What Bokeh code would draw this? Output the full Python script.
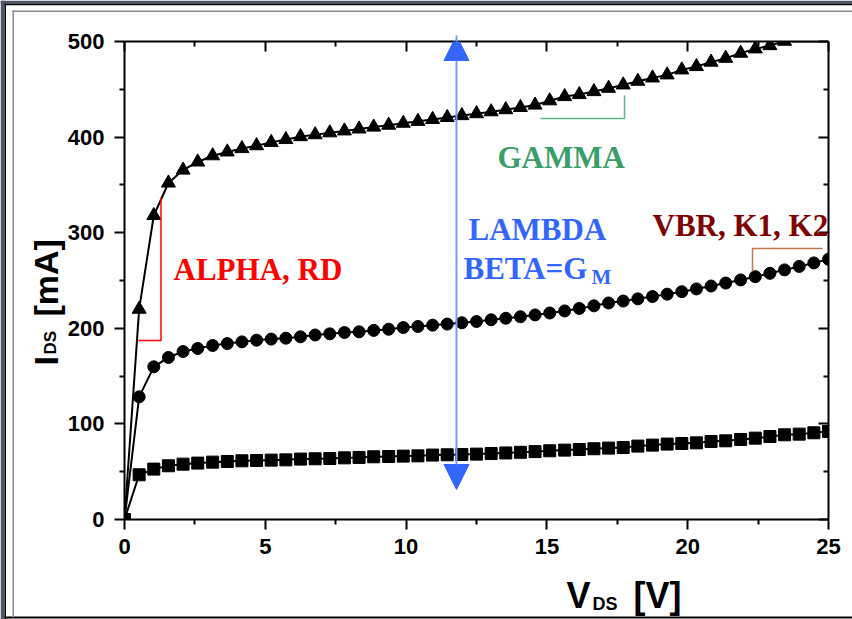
import numpy as np
from bokeh.plotting import figure
from bokeh.models import (LinearAxis, Range1d, Label, Arrow, NormalHead, FixedTicker)
from bokeh.core.properties import value
from bokeh.embed import file_html
from bokeh.resources import INLINE

# ---------------- data ----------------
v_ds = [0.00, 0.52, 1.04, 1.56, 2.08, 2.60, 3.13, 3.65, 4.17, 4.69,
        5.21, 5.73, 6.25, 6.77, 7.29, 7.81, 8.33, 8.85, 9.38, 9.90,
        10.42, 10.94, 11.46, 11.98, 12.50, 13.02, 13.54, 14.06, 14.58, 15.10,
        15.63, 16.15, 16.67, 17.19, 17.71, 18.23, 18.75, 19.27, 19.79, 20.31,
        20.83, 21.35, 21.88, 22.40, 22.92, 23.44, 23.96, 24.48, 25.00]

i_low = [0, 46.8, 52.7, 56.2, 57.9, 59.0, 60.0, 60.7, 61.4, 61.7,
         62.1, 62.4, 63.2, 63.5, 63.8, 64.5, 64.9, 65.6, 65.9, 66.3,
         66.6, 67.4, 67.7, 68.0, 68.4, 69.0, 69.6, 70.3, 71.0, 71.9,
         72.6, 73.2, 74.0, 74.7, 75.3, 76.8, 77.8, 78.9, 79.5, 80.2,
         81.6, 82.3, 83.7, 85.1, 86.8, 88.6, 89.3, 90.7, 92.1]

i_mid = [0, 128.3, 159.7, 169.5, 175.7, 178.9, 182.0, 184.0, 185.8, 187.6,
         188.7, 189.7, 191.1, 193.0, 194.2, 195.6, 196.3, 197.8, 199.0, 200.8,
         201.9, 203.3, 204.4, 205.8, 207.1, 208.9, 210.5, 212.1, 214.0, 216.0,
         218.2, 220.8, 223.5, 226.5, 228.5, 230.8, 233.2, 235.7, 238.3, 241.2,
         244.2, 247.3, 250.6, 254.0, 257.5, 261.1, 264.7, 268.4, 272.2]

i_high = [0, 220.0, 318.0, 352.0, 365.5, 374.0, 380.5, 384.5, 388.0, 391.0,
          394.5, 397.5, 400.5, 402.5, 404.5, 406.5, 408.5, 410.5, 412.5, 414.5,
          416.5, 418.5, 420.5, 422.5, 424.5, 426.5, 428.7, 431.0, 433.5, 438.0,
          442.4, 444.5, 447.6, 451.1, 454.6, 458.4, 461.9, 465.1, 470.3, 473.8,
          478.4, 482.5, 487.8, 492.3, 495.7, 500.3, 503.8, 503.8, 503.8]

x_ticks = [0, 5, 10, 15, 20, 25]
x_minor = [2.5, 7.5, 12.5, 17.5, 22.5]
y_ticks = [0, 100, 200, 300, 400, 500]
y_minor = [50, 150, 250, 350, 450]

# ---------------- layout ----------------
W, H = 852, 619
FL, FR, FT, FB = 124, 828, 41, 519

def dx(px):
    return (px - FL) * 25.0 / (FR - FL)

def dy(py):
    return (FB - py) * 500.0 / (FB - FT)

p = figure(width=W, height=H, x_range=Range1d(0, 25), y_range=Range1d(0, 500),
           output_backend="svg", toolbar_location=None,
           x_axis_location=None, y_axis_location=None,
           min_border_left=FL, min_border_right=W - FR,
           min_border_top=FT, min_border_bottom=H - FB)
p.grid.grid_line_color = None
p.outline_line_color = None
p.background_fill_color = "white"
p.border_fill_color = "white"

SANS = "Liberation Sans"
SERIF = "Liberation Serif"

def make_axis(ticks, minor, outward, show_labels):
    ax = LinearAxis(ticker=FixedTicker(ticks=ticks, minor_ticks=minor))
    ax.axis_line_width = 2
    ax.major_tick_line_width = 2
    ax.minor_tick_line_width = 2
    if outward:
        ax.major_tick_out, ax.major_tick_in = 10, 0
        ax.minor_tick_out, ax.minor_tick_in = 5, 0
    else:
        ax.major_tick_out, ax.major_tick_in = 0, 10
        ax.minor_tick_out, ax.minor_tick_in = 0, 5
    if show_labels:
        ax.major_label_text_font = SANS
        ax.major_label_text_font_style = "bold"
        ax.major_label_text_font_size = "22px"
        ax.major_label_text_color = "black"
    else:
        ax.major_label_text_font_size = "1px"
        ax.major_label_text_color = None
        ax.major_label_standoff = 0
    return ax

ax_b = make_axis(x_ticks, x_minor, True, True)
ax_b.major_label_standoff = 9
ax_l = make_axis(y_ticks, y_minor, True, True)
ax_l.major_label_standoff = 10
ax_t = make_axis(x_ticks, x_minor, False, False)
ax_r = make_axis(y_ticks, y_minor, False, False)
p.add_layout(ax_b, "below")
p.add_layout(ax_l, "left")
p.add_layout(ax_t, "above")
p.add_layout(ax_r, "right")

# ---------------- series ----------------
for ys in (i_low, i_mid, i_high):
    p.line(v_ds, ys, line_color="black", line_width=2)
p.scatter(v_ds, i_low, marker="square", size=12, color="black")
p.scatter(v_ds, i_mid, marker="circle", size=12, color="black")
p.scatter(v_ds, i_high, marker="triangle", size=14, color="black")

# ---------------- brackets ----------------
p.line([dx(137), dx(160.5), dx(160.5)], [dy(340), dy(340), dy(197)],
       line_color="#ff0000", line_width=1.5)
p.line([dx(540), dx(624), dx(624)], [dy(118), dy(118), dy(95)],
       line_color="#5fb98a", line_width=1.5)
p.line([dx(752), dx(752), dx(822)], [dy(271), dy(248), dy(248)],
       line_color="#c07850", line_width=1.5)

# ---------------- blue arrow ----------------
BLUE = "#3366ff"
p.add_layout(Arrow(start=NormalHead(size=25, fill_color=BLUE, line_color=BLUE, line_width=1),
                   end=NormalHead(size=25, fill_color=BLUE, line_color=BLUE, line_width=1),
                   x_start=dx(456), y_start=dy(489), x_end=dx(456), y_end=dy(35),
                   line_color="#7799ff", line_width=2))

# ---------------- in-frame annotation texts ----------------
def lab(text, px, py, size, color):
    p.add_layout(Label(x=px - FL, y=FB - py, x_units="screen", y_units="screen",
                       text=text, text_font=SERIF,
                       text_font_size=f"{size}px", text_font_style="bold",
                       text_color=color, text_baseline="alphabetic",
                       text_align="left"))

lab("ALPHA, RD", 173, 269, 31, "#ff0000")
lab("GAMMA", 497, 157, 31, "#3a9d6a")
lab("LAMBDA", 468, 229, 31, BLUE)
lab("BETA=G", 463, 268, 31, BLUE)
lab("M", 591, 276, 21, BLUE)
lab("VBR, K1, K2", 652, 225, 31, "#800000")

# ---------------- transparent overlay (pixel space) for axis titles and window frame ----------------
ov = figure(width=W, height=H, x_range=Range1d(0, W), y_range=Range1d(H, 0),
            output_backend="svg", toolbar_location=None,
            x_axis_location=None, y_axis_location=None,
            min_border=0, min_border_left=0, min_border_right=0,
            min_border_top=0, min_border_bottom=0)
ov.grid.grid_line_color = None
ov.outline_line_color = None
ov.background_fill_color = None
ov.border_fill_color = None
ov.styles = {"position": "absolute", "top": "0px", "left": "0px"}

def otext(text, px, py, size, angle=0.0):
    ov.text(x=[px], y=[py], text=[text], text_font=value(SANS),
            text_font_size=value(f"{size}px"), text_font_style="bold",
            text_color="black", text_baseline="alphabetic", text_align="left",
            angle=angle)

otext("V", 566, 595, 36)
otext("DS", 592, 603, 18)
otext("[V]", 633, 595, 36)
otext("I", 45, 365, 34, np.pi / 2)
otext("DS", 50, 354, 17, np.pi / 2)
otext("[mA]", 45, 316, 34, np.pi / 2)

SLATE = "#52566b"
frame_l = [0, 0, 4, 4, 4, 12, 12]
frame_r = [4, 852, 5.5, 852, 852, 13.5, 852]
frame_t = [0, 0, 3, 3, 616, 10, 10]
frame_b = [619, 3, 619, 4.8, 618, 617, 11.5]
frame_c = [SLATE, SLATE, "black", "black", "black", "#8a8a8a", "#8a8a8a"]
ov.quad(left=frame_l, right=frame_r, top=frame_t, bottom=frame_b,
        fill_color=frame_c, line_color=None)

open("out.html", "w").write(file_html([p, ov], INLINE))
